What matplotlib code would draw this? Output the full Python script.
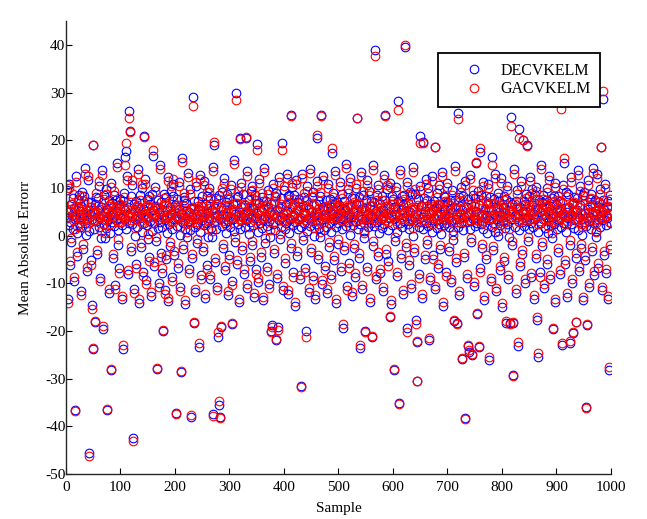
import numpy as np
import matplotlib
matplotlib.use("Agg")
import matplotlib.pyplot as plt

# per-sample mean absolute error (samples 1..1000)
dec_mae = [
    3.7, 9.5, -13.2, 5.0, 2.2, 10.8, -6.1, 2.9, 6.7, -1.4, 4.3, 7.9, 1.4, -9.6, 5.8, 3.4, -36.6, 12.4, 4.0, 0.5, -4.3, 7.5, 2.6, 8.6, 5.1,
    1.8, 6.2, -11.7, 3.8, 9.2, 4.6, -2.8, 8.3, 2.7, 14.1, 0.2, 5.4, -7.5, 3.2, 7.0, 11.6, -45.6, 1.0, 4.5, -5.2, 7.1, 3.5, -14.6, 19.0, -23.8,
    4.8, 1.3, -18.2, 6.6, 8.1, 3.0, -3.9, 5.3, 7.8, 10.3, 1.9, -8.8, 3.8, 6.1, -0.5, 13.7, 4.2, -19.6, 2.4, 8.6, -0.6, 5.0, 9.8, 1.6, -36.6,
    5.6, 3.4, -12.1, 7.4, 4.3, 0.6, 11.0, -28.2, 2.9, 6.9, -4.7, 4.0, 8.5, 2.1, -10.4, 7.4, 3.2, 15.3, 5.1, -1.9, 1.1, 6.4, -6.9, 3.7, 7.7,
    4.5, -13.4, 2.2, 7.2, -23.8, 3.5, 9.0, 16.5, 5.4, 17.8, 1.4, 12.6, -8.1, 5.9, 2.6, 26.1, 21.9, 4.8, -3.2, 8.2, 10.7, 2.4, -42.5, 6.7, -11.2,
    3.4, 0.0, 7.2, -5.9, 4.2, 1.8, 13.9, 6.1, -14.1, 3.7, 8.5, -2.4, 4.6, 9.9, 0.8, -7.6, 5.6, 20.9, 2.7, 11.8, 5.1, -9.3, 2.2, 7.7, -0.8,
    4.0, 8.3, -4.5, 3.0, 6.6, -12.6, 1.0, 8.8, 5.3, 16.7, -6.4, 2.6, 10.2, 6.2, -1.1, 3.8, -28.0, 7.4, 1.6, -9.9, 5.0, 14.8, 2.9, -3.6, 7.0,
    1.9, -7.8, -20.0, 4.3, 8.7, -11.5, 3.2, 8.0, -5.0, 0.5, 5.4, 12.3, -13.8, 2.4, 5.9, -2.2, 9.4, 4.5, -8.6, 1.3, 8.3, 10.9, 3.5, -4.1, 6.4,
    4.2, -37.2, 2.1, 7.6, -6.7, 3.4, 11.3, 5.6, -10.8, 0.2, -28.6, 4.6, 16.2, 2.7, -2.9, 7.5, 8.0, 1.4, -14.3, 5.1, 6.9, -0.3, 13.1, 3.0, -7.0,
    5.0, 1.1, 9.7, -38.0, 5.8, -4.8, 3.8, 29.0, -18.3, 7.2, 1.8, -11.9, 4.5, 10.4, 2.4, -1.6, 7.3, 5.4, -23.4, 0.8, 12.7, 6.2, -8.3, 3.2, 8.2,
    -3.3, 4.0, 11.5, 2.2, -13.0, 6.7, 2.7, 8.2, -6.2, 4.8, -0.2, 10.0, 3.7, -9.1, 7.8, 1.6, -0.2, 5.3, 14.4, -37.5, 18.9, 2.9, -5.5, 5.8, 7.8,
    1.3, 4.3, -10.7, -21.3, 8.6, -35.5, -38.0, 3.4, -19.2, 6.1, 9.1, 2.1, -2.6, 4.6, 12.0, 2.6, -7.3, 7.0, 0.6, 8.8, 4.2, -12.4, 3.0, 7.7, -4.0,
    1.9, 10.6, 5.4, -9.5, -18.6, 3.5, 6.6, 15.9, 1.0, -1.3, 4.5, 29.9, 8.0, -6.0, 2.4, 8.4, 5.0, -14.0, 20.4, 1.4, 5.9, 11.1, -3.0, 3.8, 8.8,
    4.3, -8.0, 1.8, 6.4, 20.4, 3.2, 13.5, -11.0, 5.1, 7.4, 0.3, -5.3, 2.9, 9.3, 4.0, -2.0, 10.5, 5.6, 2.2, -12.9, 8.5, 3.7, 7.5, -7.1, 19.2,
    4.8, 0.8, -9.7, 6.9, 11.9, 2.6, -4.4, 5.4, 8.1, 1.6, -13.6, 7.2, 3.4, 14.2, -1.5, 4.2, 7.2, 2.1, -6.5, 6.1, 9.6, 3.0, -10.1, 5.0, -0.3,
    -20.0, 6.7, -18.8, 2.4, 10.8, 4.5, -3.7, 8.3, 1.1, -21.9, 8.9, 5.3, -8.9, -19.2, 3.2, 12.2, 5.8, -0.7, 1.9, 7.8, 19.4, 3.8, -11.4, 4.6, 9.5,
    1.3, -5.7, 6.4, 2.7, 13.0, 5.1, -12.2, 8.2, 0.6, 8.6, 3.5, -2.5, 25.2, 5.9, 10.1, 2.2, -7.7, 4.3, 8.6, -14.8, 2.9, 11.7, 5.4, -4.2, 1.4,
    7.0, 7.7, 3.4, -9.0, 4.0, -31.6, 1.8, 12.9, 6.2, -1.0, 2.6, 8.0, 4.8, -6.8, -20.0, 7.5, 1.0, 10.3, 3.7, -11.8, 5.6, 14.0, 2.1, -3.4, 5.0,
    8.0, 3.0, -8.5, 9.2, 4.2, 0.0, -13.3, 6.6, 2.4, 11.4, 20.5, 4.6, -4.9, 7.2, 1.6, 8.3, -0.4, 25.2, 3.5, -10.2, 6.1, 12.5, 1.1, 5.3, -6.3,
    3.8, 7.4, 1.9, -12.0, 5.8, 10.9, 2.7, -2.3, 5.1, 7.7, -8.2, 0.8, 17.4, 4.5, 9.0, 3.2, -5.1, 6.9, 13.6, 1.8, -14.2, 4.0, 7.1, 2.6, -1.7,
    6.4, 3.7, 11.2, -7.4, 4.8, 1.3, 8.7, -19.4, 3.4, 7.2, -3.1, 5.4, 15.1, 2.1, -10.6, 5.9, 2.9, 9.8, -5.8, 4.2, 0.2, 12.1, 3.8, -12.7, 7.8,
    2.2, 5.0, -2.7, 7.9, 3.0, -8.7, 6.7, 10.0, 24.6, 1.4, 4.3, -4.6, 8.0, -23.6, 2.4, 13.3, 5.6, -11.1, 3.5, 8.5, 1.0, -0.5, 5.3, -20.0, 7.4,
    3.2, 11.6, -6.6, 4.6, 1.8, 9.4, -13.9, 6.2, 2.6, 7.3, -21.3, 4.0, -2.1, 14.7, 7.0, 2.1, 38.9, 5.1, -9.2, 8.5, 2.9, 10.7, -4.3, 4.5, 0.5,
    6.6, -7.9, 3.4, 8.4, 1.6, -11.6, 5.4, 12.8, 2.4, 25.2, 7.5, -3.8, 4.8, 9.7, 1.1, -5.4, 5.8, 3.7, -17.1, 11.0, 4.3, -14.4, 8.3, 2.2, 7.6,
    3.5, -28.2, 6.1, -1.2, 10.2, 4.6, 0.8, -8.4, 28.2, 7.2, -35.1, 2.7, 13.8, 5.3, -4.7, 1.9, 8.2, 6.4, -12.3, 3.0, 8.6, 39.5, -2.4, 4.2, 11.3,
    -19.4, 2.4, 6.9, -6.1, 1.4, 9.1, 5.0, -10.9, 3.4, 8.8, 0.0, 14.3, 5.6, -3.5, 3.8, 8.8, -17.7, 4.5, -30.5, -22.3, 7.7, 1.8, -8.0, 10.4, 20.9,
    2.9, 6.2, -13.1, 4.0, 19.6, 1.3, 7.8, -5.0, 5.1, 11.8, 2.6, -1.8, 7.5, 2.1, 9.9, -21.9, 4.8, -9.4, 6.6, 3.2, 12.4, 0.8, -4.0, 5.4, 7.2,
    3.7, 18.6, -11.3, 6.1, 1.6, 8.9, 4.3, -6.9, 2.4, 10.6, 6.7, -2.9, 0.3, 4.6, 13.4, 3.4, -14.7, 8.2, 2.2, 8.1, 5.3, -7.6, 2.7, 7.0, 11.0,
    4.2, -3.2, 1.8, 7.4, 5.6, -9.8, 3.0, 9.5, 5.0, -0.9, 1.0, -18.0, 7.4, 14.5, 3.5, -5.6, -18.3, 4.5, 25.7, 1.9, 8.0, -12.5, 6.2, 2.6, 10.1,
    5.4, -25.9, 1.1, 8.3, -4.5, 3.8, -38.3, 11.5, 5.9, -8.8, 2.9, 7.6, -23.2, 4.8, -24.4, 1.4, 12.7, 6.6, -1.4, -25.1, 3.4, 8.6, 4.0, -10.5, 7.8,
    2.1, 15.2, 5.1, -16.5, 2.7, 9.3, 6.4, -23.4, -6.8, 17.5, 2.4, 8.5, -2.6, 4.6, 11.2, 1.3, -13.5, 5.6, 3.7, 8.2, -4.9, 4.3, 0.6, 10.8, 6.9,
    -26.1, 3.2, 8.0, -9.6, 5.3, 1.8, 16.5, 2.6, -3.0, 7.7, 4.5, 13.0, 0.8, -11.7, 6.1, 3.5, 9.0, -0.1, 5.0, 7.2, -7.2, 2.2, 12.0, 4.2, -14.9,
    5.8, 3.0, 8.3, -5.3, 4.8, 1.6, -18.4, 7.7, 10.5, 2.4, -9.1, 5.4, -0.2, 7.1, -18.4, 24.8, 3.4, -2.0, 6.6, -29.2, -18.4, 13.9, 4.3, 1.9, -12.0,
    7.2, 3.8, 9.6, -23.2, 4.6, 22.3, 1.1, -6.4, 5.9, 11.4, 2.9, -3.9, 5.1, 20.0, 7.3, 2.1, -10.0, 6.7, 3.2, 8.7, 19.0, 4.0, -1.2, 8.2, 1.4,
    5.3, 12.3, -8.6, 2.7, 6.4, 9.8, 1.8, -13.2, 4.5, 8.6, 3.5, -4.7, 10.2, -17.7, 5.6, -25.5, 0.8, 7.5, 5.0, -7.7, 2.6, 14.9, 7.0, -2.2, 3.4,
    8.5, 4.3, -11.0, 1.6, 7.5, 3.8, 10.0, -5.9, 5.1, 0.5, 12.6, 3.0, -9.0, 6.2, 2.2, 7.9, -0.6, 4.8, -19.6, 8.3, 2.4, 11.1, -14.0, 4.2, 6.7,
    1.3, 8.4, -3.4, 5.4, 3.2, -8.1, 7.2, 28.0, 1.9, -23.0, 4.6, 10.7, 2.7, 15.2, -6.0, 5.8, 0.8, 9.2, 5.0, -12.8, 3.7, 8.8, 6.1, -1.9, -22.5,
    2.4, 12.2, 4.3, -9.9, -20.4, 6.9, 1.6, 8.0, 3.4, -4.6, -18.1, 7.8, 5.3, 13.7, 1.1, -7.4, 3.8, 6.4, 10.3, -2.7, 4.5, 0.2, -13.6, 8.5, 2.9,
    9.1, 4.8, -5.2, -36.0, 2.1, -18.8, 5.6, 11.6, 3.0, -10.7, 7.7, 4.0, 1.4, 8.8, -3.3, 6.6, 14.1, 2.6, -8.3, 5.1, 7.4, 1.0, -0.3, 12.9, 4.6,
    3.5, -6.7, 7.0, 1.8, 9.7, 4.3, 18.6, -11.5, 3.2, 28.6, 7.4, -4.1, 5.4, 10.9, 2.2, -7.9, 5.9, 3.7, 7.2, -13.4, -28.2, 4.8, 8.6, -2.8, 2.7,
]

ga_mae = [
    5.0, 10.6, -14.1, 3.8, 4.0, 9.9, -5.4, 5.2, 5.6, -0.5, 6.6, 8.8, 3.2, -8.7, 4.4, 1.4, -36.8, 11.3, 6.2, 2.0, -3.4, 6.0, 4.4, 7.5, 3.6,
    3.4, 4.6, -12.5, 5.6, 8.3, 3.0, -1.7, 7.2, 4.8, 13.0, 1.8, 3.6, -6.6, 5.2, 5.4, 12.5, -46.2, 2.6, 6.0, -6.1, 6.0, 5.0, -15.3, 19.0, -23.6,
    3.2, 3.0, -18.0, 4.8, 9.0, 5.0, -3.0, 3.8, 6.4, 11.4, 3.6, -9.6, 5.6, 4.4, 1.0, 12.8, 2.4, -19.0, 4.2, 7.6, 0.5, 3.4, 8.7, 3.2, -36.4,
    4.2, 5.4, -11.3, 6.3, 6.6, 2.4, 10.1, -28.0, 4.8, 5.2, -3.8, 6.2, 9.4, 3.8, -11.2, 6.0, 4.8, 14.4, 3.2, -0.8, 2.8, 4.8, -7.8, 5.8, 6.6,
    2.8, -12.6, 4.2, 6.2, -23.0, 5.6, 8.1, 14.8, 3.6, 19.4, 3.0, 11.7, -7.2, 4.2, 4.4, 24.6, 21.8, 3.2, -2.3, 7.0, 11.6, 4.2, -43.0, 5.2, -12.0,
    5.4, 1.6, 6.1, -6.8, 6.4, 3.4, 13.0, 4.4, -13.3, 5.8, 7.4, -1.5, 3.0, 10.8, 2.6, -8.5, 4.2, 20.7, 4.6, 10.9, 3.6, -10.1, 4.0, 6.4, 0.3,
    6.2, 7.4, -5.4, 5.0, 5.0, -11.8, 2.6, 6.1, 3.8, 17.9, -5.5, 4.4, 9.3, 4.6, -0.2, 6.0, -27.8, 6.0, 3.4, -10.7, 3.4, 13.9, 4.8, -4.5, 5.6,
    3.8, -6.9, -19.8, 6.6, 7.8, -12.3, 5.2, 6.8, -4.1, 2.2, 3.6, 11.4, -13.0, 4.2, 4.6, -1.3, 10.3, 2.8, -9.5, 3.0, 7.2, 11.8, 5.2, -3.2, 4.8,
    6.0, -37.4, 4.0, 6.5, -5.8, 5.4, 10.4, 3.8, -11.6, 1.8, -28.4, 3.0, 15.5, 4.6, -2.0, 6.2, 8.9, 3.2, -13.5, 3.6, 5.4, 0.8, 12.2, 5.0, -7.9,
    3.4, 2.8, 8.8, -37.6, 4.0, -3.9, 6.0, 27.2, -18.1, 5.8, 3.6, -11.1, 2.8, 11.3, 4.2, -0.7, 6.2, 3.6, -22.5, 2.4, 11.8, 4.6, -9.2, 5.2, 7.0,
    -2.4, 6.2, 10.6, 4.2, -12.2, 5.2, 4.6, 9.1, -7.1, 3.2, 1.4, 9.1, 5.8, -8.3, 6.6, 3.4, 0.9, 3.8, 13.5, -37.8, 19.6, 4.8, -4.6, 4.0, 6.7,
    3.0, 6.6, -11.5, -20.3, 7.6, -34.7, -38.2, 5.4, -19.0, 4.4, 10.0, 3.8, -1.7, 3.0, 11.1, 4.4, -6.4, 5.6, 2.2, 7.9, 6.4, -11.6, 5.0, 6.4, -4.9,
    3.8, 9.7, 3.6, -10.3, -18.4, 5.6, 5.0, 15.0, 2.6, -0.4, 6.8, 28.4, 6.8, -5.1, 4.2, 9.3, 3.4, -13.2, 20.2, 3.2, 4.2, 10.2, -2.1, 6.0, 6.1,
    6.6, -7.1, 3.6, 4.8, 20.6, 5.2, 12.6, -10.2, 3.6, 6.0, 1.8, -4.4, 4.8, 8.4, 6.2, -1.1, 9.6, 3.8, 4.0, -12.1, 7.4, 5.8, 6.6, -8.0, 18.0,
    3.2, 2.4, -8.9, 5.4, 11.0, 4.4, -3.5, 3.6, 9.0, 3.4, -12.8, 5.8, 5.4, 13.3, -0.6, 6.4, 6.3, 3.8, -7.4, 4.4, 8.7, 5.0, -10.9, 3.4, 1.2,
    -20.2, 5.2, -19.2, 4.4, 9.9, 6.8, -2.8, 7.2, 2.8, -21.6, 8.0, 3.8, -8.1, -19.8, 5.2, 11.3, 4.0, 0.4, 3.8, 6.6, 18.0, 6.0, -10.6, 3.0, 10.4,
    3.0, -4.8, 4.8, 4.6, 12.1, 3.6, -11.4, 7.0, 2.2, 7.7, 5.6, -1.6, 25.0, 4.2, 11.0, 4.0, -8.6, 6.6, 7.6, -14.0, 4.8, 10.8, 3.6, -3.3, 3.2,
    5.6, 6.8, 5.4, -8.2, 6.2, -31.8, 3.6, 12.0, 4.6, -0.1, 4.4, 8.9, 3.2, -7.7, -21.3, 6.2, 2.6, 9.4, 5.8, -11.0, 3.8, 13.1, 4.0, -2.5, 3.4,
    6.8, 5.0, -9.3, 8.3, 6.4, 1.6, -12.5, 5.0, 4.2, 10.5, 21.1, 3.0, -4.0, 5.8, 3.4, 9.2, 0.7, 25.0, 5.6, -9.4, 4.4, 11.6, 2.8, 3.8, -7.2,
    6.0, 6.3, 3.8, -11.2, 4.0, 10.0, 4.6, -1.4, 3.6, 6.4, -9.0, 2.4, 18.3, 6.8, 8.1, 5.2, -4.2, 5.4, 12.7, 3.6, -13.4, 6.2, 6.0, 4.4, -0.8,
    4.8, 5.8, 10.3, -6.5, 3.2, 3.0, 7.8, -18.5, 5.4, 5.8, -2.2, 3.6, 14.2, 4.0, -11.4, 4.2, 4.8, 8.9, -6.7, 6.4, 1.8, 11.2, 6.0, -11.9, 6.6,
    4.2, 3.0, -1.8, 7.0, 5.0, -7.9, 5.2, 10.9, 24.6, 3.2, 6.6, -3.7, 6.8, -23.0, 4.4, 12.4, 3.8, -10.3, 5.6, 9.4, 2.6, 0.6, 3.4, -20.2, 6.0,
    5.2, 10.7, -7.5, 2.6, 3.6, 8.5, -13.1, 4.6, 4.4, 6.4, -21.1, 6.2, -1.2, 13.8, 5.6, 4.0, 37.6, 3.2, -8.4, 7.4, 4.8, 9.8, -3.4, 6.8, 2.2,
    5.0, -7.0, 5.4, 7.5, 3.4, -10.8, 3.6, 11.9, 4.2, 25.0, 6.2, -2.9, 3.2, 10.6, 2.8, -6.3, 4.0, 5.8, -16.8, 10.1, 6.6, -13.6, 7.2, 4.2, 6.7,
    5.6, -28.0, 4.4, -0.3, 9.3, 3.0, 2.4, -7.6, 26.3, 5.8, -35.3, 4.6, 12.9, 3.4, -3.8, 3.8, 7.3, 4.8, -11.5, 5.0, 7.6, 40.0, -1.5, 6.4, 10.4,
    -20.3, 4.4, 5.4, -5.2, 3.2, 8.2, 3.4, -10.1, 5.4, 5.9, 1.6, 13.4, 3.8, -2.6, 6.0, 9.7, -18.5, 2.8, -30.6, -22.1, 6.4, 3.6, -8.9, 9.5, 19.4,
    4.8, 4.6, -12.3, 6.2, 19.5, 3.0, 6.9, -4.1, 3.2, 10.9, 4.4, -0.9, 6.2, 4.0, 9.0, -21.4, 2.8, -8.6, 5.0, 5.2, 11.5, 2.4, -4.9, 3.6, 6.3,
    5.8, 18.6, -10.5, 4.4, 3.4, 8.0, 6.6, -6.0, 4.2, 9.7, 5.2, -2.0, 2.0, 3.0, 12.5, 5.4, -13.9, 7.0, 4.2, 7.2, 3.4, -8.5, 4.6, 5.6, 10.1,
    6.4, -2.3, 3.6, 6.5, 3.8, -9.0, 5.0, 8.6, 3.0, 0.2, 2.6, -17.6, 6.0, 13.6, 5.6, -4.7, -18.5, 2.8, 24.4, 3.8, 7.1, -11.7, 4.6, 4.4, 9.2,
    3.6, -25.7, 2.8, 7.2, -3.6, 6.0, -38.5, 10.6, 4.2, -8.0, 4.8, 6.7, -23.0, 3.2, -24.0, 3.2, 11.8, 5.0, -0.5, -24.8, 5.4, 9.5, 6.2, -9.7, 6.6,
    4.0, 15.4, 3.2, -16.3, 4.6, 8.4, 4.8, -23.2, -7.7, 18.3, 4.2, 7.4, -1.7, 2.6, 10.3, 3.0, -12.7, 3.8, 5.8, 7.3, -4.0, 6.6, 2.2, 9.9, 5.4,
    -25.5, 5.2, 6.8, -8.8, 3.4, 3.6, 14.9, 4.4, -2.1, 6.8, 6.8, 12.1, 2.4, -10.9, 4.4, 5.6, 8.1, 1.0, 3.0, 5.8, -6.3, 4.2, 11.1, 6.4, -14.1,
    4.0, 5.0, 7.4, -4.4, 2.8, 3.4, -18.0, 6.4, 9.6, 4.4, -8.3, 3.6, 1.4, 6.2, -18.5, 23.0, 5.4, -1.1, 5.0, -29.4, -18.2, 13.0, 6.6, 3.8, -11.2,
    5.8, 6.0, 8.7, -22.3, 3.0, 20.4, 2.8, -5.5, 4.2, 10.5, 4.8, -3.0, 3.2, 20.0, 6.4, 4.0, -9.2, 5.2, 5.2, 7.8, 18.8, 6.2, -0.3, 7.0, 3.2,
    3.4, 11.4, -7.8, 4.6, 4.8, 8.9, 3.6, -12.4, 6.8, 7.6, 5.6, -3.8, 9.3, -17.1, 3.8, -24.6, 2.4, 6.6, 3.0, -8.6, 4.4, 14.0, 5.6, -1.3, 5.4,
    7.6, 6.6, -10.2, 3.4, 6.2, 6.0, 9.1, -5.0, 3.2, 2.0, 11.7, 5.0, -8.2, 4.6, 4.2, 7.0, 0.5, 2.8, -19.4, 7.2, 4.4, 10.2, -13.2, 6.4, 5.2,
    3.0, 7.5, -2.5, 3.6, 5.2, -7.3, 5.8, 26.5, 3.8, -22.6, 7.0, 9.8, 4.6, 16.2, -5.1, 4.0, 2.4, 8.3, 3.0, -12.0, 5.8, 6.1, 4.4, -1.0, -22.1,
    4.4, 11.3, 6.6, -9.1, -20.2, 5.4, 3.4, 7.1, 5.4, -3.7, -18.1, 6.6, 3.4, 12.8, 2.8, -6.6, 6.0, 4.8, 9.4, -1.8, 2.4, 1.8, -12.8, 7.4, 4.8,
    8.2, 2.8, -4.3, -36.2, 4.0, -18.6, 3.8, 10.7, 5.0, -9.9, 6.4, 6.2, 3.2, 7.9, -2.4, 5.0, 13.2, 4.4, -7.5, 3.2, 6.5, 2.6, 0.8, 12.0, 7.0,
    5.6, -5.8, 5.6, 3.6, 8.8, 6.6, 18.6, -10.7, 5.2, 30.3, 6.0, -3.2, 3.6, 10.0, 4.2, -7.1, 4.2, 5.8, 6.3, -12.6, -27.6, 2.8, 7.7, -1.9, 4.6,
]

series_names = ["DECVKELM", "GACVKELM"]
series_colors = ["#0000ff", "#ff0000"]

samples = np.arange(1, len(dec_mae) + 1)

plt.rcParams["font.family"] = ["Liberation Serif", "DejaVu Serif"]
plt.rcParams["axes.unicode_minus"] = False

fig = plt.figure(figsize=(6.47, 5.19), dpi=100)
ax = fig.add_axes([0.102, 0.0867, 0.8423, 0.8728])

for vals, name, col in zip([dec_mae, ga_mae], series_names, series_colors):
    ax.plot(samples, vals, linestyle="none", marker="o", markersize=6.2,
            markerfacecolor="none", markeredgecolor=col, markeredgewidth=0.8,
            label=name)

ax.set_xlim(0, 1000)
ax.set_ylim(-50, 45)
ax.set_xticks(np.arange(0, 1001, 100))
ax.set_yticks(np.arange(-50, 41, 10))

for side in ["top", "right"]:
    ax.spines[side].set_visible(False)
for side in ["left", "bottom"]:
    ax.spines[side].set_linewidth(1.0)
    ax.spines[side].set_color("#262626")

ax.tick_params(direction="in", length=4, width=0.8, labelsize=11)
ax.tick_params(axis="x", pad=5)
ax.tick_params(axis="y", pad=0.5)

ax.set_xlabel("Sample", fontsize=11, labelpad=6)
ax.set_ylabel("Mean Absolute Errorr", fontsize=11, labelpad=9)

leg = ax.legend(loc="upper left", bbox_to_anchor=(0.6826, 0.929), borderaxespad=0,
                fontsize=11.5, fancybox=False, framealpha=1, edgecolor="black",
                borderpad=0.6, handlelength=3.3, handletextpad=0.0, labelspacing=0.15)
leg.get_frame().set_linewidth(1.3)
leg.set_zorder(10)

fig.savefig("out.png", dpi=100)
